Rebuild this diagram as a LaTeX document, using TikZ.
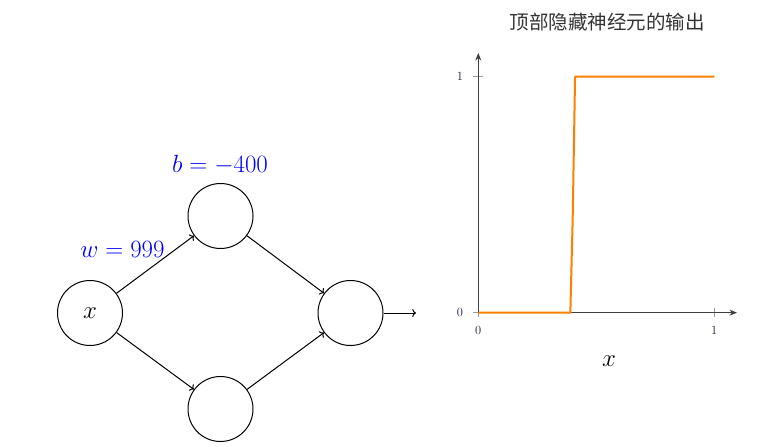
\documentclass[tikz,border=0pt]{standalone}
\usepackage{fontspec}
\newfontfamily\cjk{Noto Sans CJK SC}
\usetikzlibrary{arrows.meta}
\definecolor{axisgray}{HTML}{404040}
\definecolor{tickgray}{HTML}{9A9A9A}
\definecolor{steporange}{HTML}{FF8000}
\definecolor{ticklabel}{HTML}{1A1A40}
\definecolor{titlegray}{HTML}{333333}
\begin{document}
\begin{tikzpicture}[x=1pt,y=-1pt,
  neuron/.style={circle,draw,line width=1pt,minimum size=65pt,inner sep=0pt,font=\fontsize{24.7}{30}\selectfont},
  link/.style={line width=1pt,->},
  param/.style={text=blue,font=\fontsize{24.7}{30}\selectfont,inner sep=0pt},
  axisline/.style={line width=1pt,axisgray,-{Stealth[length=7.5pt,width=6pt]}},
  tickmark/.style={line width=0.8pt,tickgray},
  ticklab/.style={text=ticklabel,font=\fontsize{12.5}{15}\selectfont,inner sep=0pt},
  steppath/.style={steporange,line width=2pt,line join=round},
]
\useasboundingbox (0,0) rectangle (763,447);

% network
\node[neuron] (in) at (90,313) {$x$};
\node[neuron] (top) at (220.5,216) {};
\node[neuron] (bot) at (220.5,409) {};
\node[neuron] (out) at (350.5,313) {};
\coordinate (outend) at (416,313);

\draw[link] (in) -- (top);
\draw[link] (in) -- (bot);
\draw[link] (top) -- (out);
\draw[link] (bot) -- (out);
\draw[link] (out) -- (outend);

\node[param] (wlab) at (122.5,249) {$w = 999$};
\node[param] (blab) at (220,165) {$b = -400$};

% plot
\node[font=\cjk\fontsize{19.5}{22}\selectfont,text=titlegray,inner sep=0pt] (title) at (607,22) {顶部隐藏神经元的输出};

\coordinate (O) at (478.3,312.7);
\coordinate (ytop) at (478.3,53);
\coordinate (xend) at (737,312.7);

\draw[tickmark] (473.3,312.7) -- (483.3,312.7);
\draw[tickmark] (473.3,76.7) -- (483.3,76.7);
\draw[tickmark] (478.3,308) -- (478.3,317.4);
\draw[tickmark] (714.3,308) -- (714.3,317.4);

\draw[axisline] (O) -- (ytop);
\draw[axisline] (O) -- (xend);

\draw[steppath] (478.3,312.7) -- ({478.3+0.39*236},312.7)
  -- ({478.3+0.40*236},{312.7-0.4013*236})
  -- ({478.3+0.41*236},76.7) -- (714.3,76.7);

\node[ticklab] (y0) at (460,312.7) {0};
\node[ticklab] (y1) at (460,76.7) {1};
\node[ticklab] (x0) at (478.3,330.5) {0};
\node[ticklab] (x1) at (714.3,330.5) {1};
\node[font=\fontsize{24.7}{30}\selectfont,inner sep=0pt] (xlab) at (609,361) {$x$};
\end{tikzpicture}
\end{document}
